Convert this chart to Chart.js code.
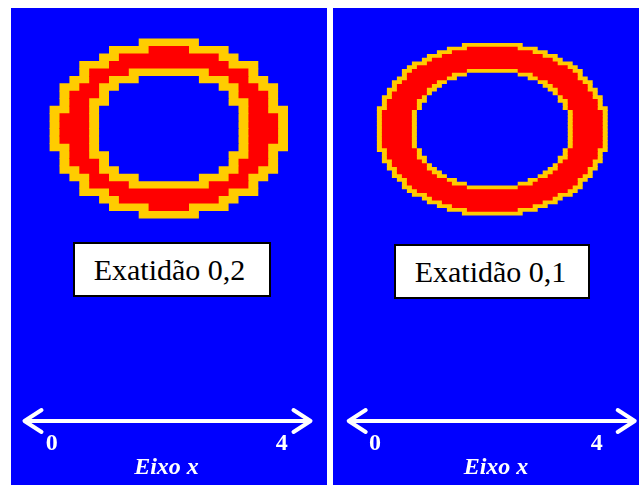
<!DOCTYPE html>
<html>
<head>
<meta charset="utf-8">
<title>Exatidão 0,2 / 0,1</title>
<script src="https://cdn.jsdelivr.net/npm/chart.js@4.4.1/dist/chart.umd.min.js"></script>
<style>
  html, body { margin: 0; padding: 0; background: #ffffff; }
  #stage { position: relative; width: 639px; height: 485px; overflow: hidden; background: #ffffff; }
  #stage canvas { position: absolute; }
  .caption {
    position: absolute; box-sizing: border-box;
    border: 2px solid #000000; background: #ffffff; color: #000000;
    display: flex; align-items: center; justify-content: center;
    font-family: 'Liberation Serif', 'Times New Roman', serif; font-size: 30px;
    white-space: nowrap;
  }
</style>
</head>
<body>
<div id="stage">
  <canvas id="coarse" width="316" height="477" style="left:11px;top:8px"></canvas>
  <canvas id="fine" width="306" height="477" style="left:333px;top:8px"></canvas>
  <div class="caption" id="capCoarse" style="left:73px;top:242px;width:198px;height:55px;padding-right:5px"></div>
  <div class="caption" id="capFine" style="left:394px;top:244px;width:196px;height:55px;padding-right:3px"></div>
</div>
<script>
// ---- labels ----
const TICKS_X = [0, 4];
const AXIS_TITLE = 'Eixo x';
const CAPTION_COARSE = 'Exatidão 0,2';
const CAPTION_FINE = 'Exatidão 0,1';

// ---- paving with cells of 0,2 (24 x 24 cells) ----
// one entry per row, top to bottom: [first cell, last cell + 1], null = nothing in that row
const COARSE_BOUNDARY_OUTER = [
  [9,15],[6,18],[5,19],[3,21],[3,21],[2,22],[1,23],[1,23],[1,23],[0,24],[0,24],[0,24],
  [0,24],[0,24],[0,24],[1,23],[1,23],[1,23],[2,22],[3,21],[3,21],[5,19],[6,18],[9,15]
];
const COARSE_INSIDE = [
  null,[10,14],[7,17],[6,18],[4,20],[4,20],[3,21],[2,22],[2,22],[2,22],[1,23],[1,23],
  [1,23],[1,23],[2,22],[2,22],[2,22],[3,21],[4,20],[4,20],[6,18],[7,17],[10,14],null
];
const COARSE_BOUNDARY_INNER = [
  null,null,null,null,[8,16],[6,18],[5,19],[5,19],[4,20],[4,20],[4,20],[4,20],
  [4,20],[4,20],[4,20],[4,20],[5,19],[5,19],[6,18],[8,16],null,null,null,null
];
const COARSE_HOLE = [
  null,null,null,null,null,[9,15],[7,17],[6,18],[6,18],[5,19],[5,19],[5,19],
  [5,19],[5,19],[5,19],[6,18],[6,18],[7,17],[9,15],null,null,null,null,null
];

// ---- paving with cells of 0,1 (46 x 46 cells) ----
const FINE_BOUNDARY_OUTER = [
  [17,29],[14,32],[12,34],[10,36],[9,37],[7,39],[6,40],[5,41],[5,41],[4,42],[3,43],[3,43],
  [2,44],[2,44],[1,45],[1,45],[1,45],[0,46],[0,46],[0,46],[0,46],[0,46],[0,46],
  [0,46],[0,46],[0,46],[0,46],[0,46],[0,46],[1,45],[1,45],[1,45],[2,44],[2,44],
  [3,43],[3,43],[4,42],[5,41],[5,41],[6,40],[7,39],[9,37],[10,36],[12,34],[14,32],[17,29]
];
const FINE_INSIDE = [
  null,[18,28],[15,31],[13,33],[11,35],[10,36],[8,38],[7,39],[6,40],[6,40],[5,41],[4,42],
  [4,42],[3,43],[3,43],[2,44],[2,44],[2,44],[1,45],[1,45],[1,45],[1,45],[1,45],
  [1,45],[1,45],[1,45],[1,45],[1,45],[2,44],[2,44],[2,44],[3,43],[3,43],[4,42],
  [4,42],[5,41],[6,40],[6,40],[7,39],[8,38],[10,36],[11,35],[13,33],[15,31],[18,28],null
];
const FINE_BOUNDARY_INNER = [
  null,null,null,null,null,null,null,[18,28],[15,31],[14,32],[12,34],[11,35],
  [10,36],[10,36],[9,37],[8,38],[8,38],[8,38],[7,39],[7,39],[7,39],[7,39],[7,39],
  [7,39],[7,39],[7,39],[7,39],[7,39],[8,38],[8,38],[8,38],[9,37],[10,36],[10,36],
  [11,35],[12,34],[14,32],[15,31],[18,28],null,null,null,null,null,null,null
];
const FINE_HOLE = [
  null,null,null,null,null,null,null,null,[18,28],[16,30],[14,32],[13,33],
  [12,34],[11,35],[10,36],[10,36],[9,37],[9,37],[8,38],[8,38],[8,38],[8,38],[8,38],
  [8,38],[8,38],[8,38],[8,38],[8,38],[9,37],[9,37],[10,36],[10,36],[11,35],[12,34],
  [13,33],[14,32],[16,30],[18,28],null,null,null,null,null,null,null,null
];

// ---- colours ----
const COLOR_OUTSIDE = '#0000ff';
const COLOR_BOUNDARY = '#ffcc00';
const COLOR_INSIDE = '#ff0000';
const COLOR_TEXT = '#ffffff';
const SERIF = "'Liberation Serif', 'Times New Roman', serif";

// ---- panel geometry (canvas pixels) ----
const PLOT_HEIGHT = 413;     // top of canvas down to the axis arrow
const AXIS_HEIGHT = 64;      // tick labels + axis title under the arrow
const PANELS = [
  { canvas: 'coarse', caption: 'capCoarse', text: CAPTION_COARSE,
    layers: [COARSE_BOUNDARY_OUTER, COARSE_INSIDE, COARSE_BOUNDARY_INNER, COARSE_HOLE],
    padLeft: 0, padRight: 5, cellLeft: 39, cellW: 9.9, rowTop: 31, rowH: 7.46,
    zeroPx: 40.7, unitPx: 57.5, arrow: { from: 13.5, to: 299.5 } },
  { canvas: 'fine', caption: 'capFine', text: CAPTION_FINE,
    layers: [FINE_BOUNDARY_OUTER, FINE_INSIDE, FINE_BOUNDARY_INNER, FINE_HOLE],
    padLeft: 20, padRight: 0, cellLeft: 44.3, cellW: 5.0, rowTop: 35.3, rowH: 3.733,
    zeroPx: 42, unitPx: 55.42, arrow: { from: 15.7, to: 301.7 } }
];

const LAYER_STYLE = [
  { label: 'fronteira externa', color: COLOR_BOUNDARY, order: 4 },
  { label: 'interior', color: COLOR_INSIDE, order: 3 },
  { label: 'fronteira interna', color: COLOR_BOUNDARY, order: 2 },
  { label: 'exterior', color: COLOR_OUTSIDE, order: 1 }
];

// solid panel background
const panelBackground = {
  id: 'panelBackground',
  beforeDraw(chart) {
    const { ctx, width, height } = chart;
    ctx.save();
    ctx.fillStyle = COLOR_OUTSIDE;
    ctx.fillRect(0, 0, width, height);
    ctx.restore();
  }
};

// white double-headed arrow along the x axis
const axisArrow = {
  id: 'axisArrow',
  afterDraw(chart, args, opts) {
    const { ctx, chartArea } = chart;
    const y = chartArea.bottom;
    const hx = 17, hy = 11;
    ctx.save();
    ctx.strokeStyle = COLOR_TEXT;
    ctx.lineWidth = 4;
    ctx.lineCap = 'round';
    ctx.lineJoin = 'round';
    ctx.beginPath();
    ctx.moveTo(opts.from, y);
    ctx.lineTo(opts.to, y);
    ctx.moveTo(opts.from + hx, y - hy);
    ctx.lineTo(opts.from, y);
    ctx.lineTo(opts.from + hx, y + hy);
    ctx.moveTo(opts.to - hx, y - hy);
    ctx.lineTo(opts.to, y);
    ctx.lineTo(opts.to - hx, y + hy);
    ctx.stroke();
    ctx.restore();
  }
};

function rowsToBars(rows) {
  const out = [];
  rows.forEach((span, row) => { if (span) out.push({ y: row, x: span }); });
  return out;
}

PANELS.forEach(p => {
  document.getElementById(p.caption).textContent = p.text;
  const canvas = document.getElementById(p.canvas);
  const areaW = canvas.width - p.padLeft - p.padRight;

  const cellMin = -(p.cellLeft - p.padLeft) / p.cellW;
  const axisMin = -(p.zeroPx - p.padLeft) / p.unitPx;
  const rowMin = -(p.rowTop / p.rowH + 0.5);

  const datasets = p.layers.map((rows, i) => ({
    label: LAYER_STYLE[i].label,
    data: rowsToBars(rows),
    backgroundColor: LAYER_STYLE[i].color,
    borderWidth: 0,
    order: LAYER_STYLE[i].order,
    grouped: false,
    barPercentage: 1,
    categoryPercentage: 1,
    inflateAmount: 0.4,
    xAxisID: 'cells',
    yAxisID: 'rows'
  }));

  new Chart(canvas, {
    type: 'bar',
    data: { datasets },
    options: {
      indexAxis: 'y',
      responsive: false,
      animation: false,
      devicePixelRatio: 1,
      events: [],
      layout: { padding: { left: p.padLeft, right: p.padRight, top: 0, bottom: 0 } },
      plugins: {
        legend: { display: false },
        tooltip: { enabled: false },
        axisArrow: p.arrow
      },
      scales: {
        rows: {
          type: 'linear', axis: 'y', reverse: true, display: false,
          min: rowMin, max: rowMin + PLOT_HEIGHT / p.rowH,
          afterBuildTicks: s => { s.ticks = []; }
        },
        cells: {
          type: 'linear', axis: 'x', display: false,
          min: cellMin, max: cellMin + areaW / p.cellW,
          afterBuildTicks: s => { s.ticks = []; }
        },
        x: {
          type: 'linear', position: 'bottom',
          min: axisMin, max: axisMin + areaW / p.unitPx,
          afterBuildTicks: s => { s.ticks = TICKS_X.map(v => ({ value: v })); },
          afterFit: s => { s.height = AXIS_HEIGHT; },
          grid: { display: false, drawTicks: false },
          border: { display: false },
          ticks: {
            color: COLOR_TEXT, padding: 8, maxRotation: 0, autoSkip: false,
            font: { family: SERIF, size: 24, weight: 'bold', lineHeight: 1.2 }
          },
          title: {
            display: true, text: AXIS_TITLE, color: COLOR_TEXT,
            padding: { top: 0, bottom: 3 },
            font: { family: SERIF, size: 24, weight: 'bold', style: 'italic', lineHeight: 1.2 }
          }
        }
      }
    },
    plugins: [panelBackground, axisArrow]
  });
});
</script>
</body>
</html>
